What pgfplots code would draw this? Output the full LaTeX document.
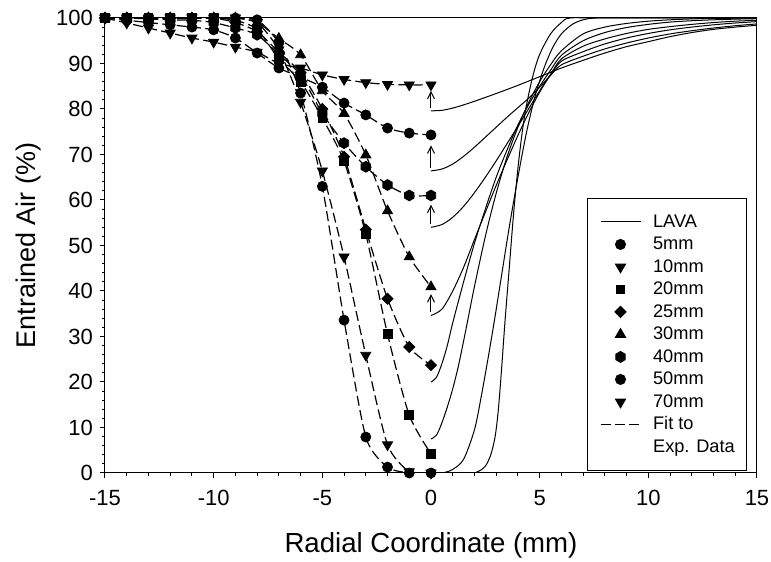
\documentclass[border=0pt]{standalone}
\usepackage{fontspec}
\setmainfont{Liberation Sans}
\usepackage{pgfplots}
\pgfplotsset{compat=1.18}
\usepackage{pgfplotstable}
\usetikzlibrary{arrows.meta,calc}

\pgfdeclareplotmark{hexagon*}{%
  \pgfpathmoveto{\pgfqpointpolar{90}{\pgfplotmarksize}}%
  \pgfpathlineto{\pgfqpointpolar{150}{\pgfplotmarksize}}%
  \pgfpathlineto{\pgfqpointpolar{210}{\pgfplotmarksize}}%
  \pgfpathlineto{\pgfqpointpolar{270}{\pgfplotmarksize}}%
  \pgfpathlineto{\pgfqpointpolar{330}{\pgfplotmarksize}}%
  \pgfpathlineto{\pgfqpointpolar{30}{\pgfplotmarksize}}%
  \pgfpathclose
  \pgfusepathqfillstroke}

\pgfplotstableread{
x    s5    s10   s20   s25   s30   s40   s50   s70
-15  100   100   100   100   100   100   100   100
-14  100   100   100   100   100   100   99.5  98.9
-13  100   100   100   100   100   99.8  99    97.8
-12  100   100   100   100   100   99.6  98.5  96.7
-11  100   100   100   100   100   99.5  98    95.6
-10  100   100   100   100   100   99    97.4  94.7
-9   100   100   99.5  99    100   97.8  95.6  93.6
-8   99.6  99    97.5  97    99    96.3  92.3  92.5
-7   94.5  93    91    92.5  95.5  92    89    90
-6   83.5  81.5  86    88    91.9  87.5  87    89
-5   63    66.4  78    80    84    79    84.8  87.5
-4   33.6  47.5  68.5  69.5  79    72.5  81.3  86.5
-3   7.9   25.9  52.5  53.5  69.9  67.3  78.7  85.8
-2   1.3   6.2   30.5  38.3  57.6  63.3  75.8  85.4
-1   0     0.3   12.7  27.7  47.5  61    74.7  85.3
0    0     0     4.2   23.7  40.9  61    74.3  85.3
}\expdata

\begin{document}
\begin{tikzpicture}
\begin{axis}[
  scale only axis, width=326pt, height=227.5pt,
  xmin=-15, xmax=15, ymin=0, ymax=100,
  xtick={-15,-10,...,15}, ytick={0,10,...,100},
  minor x tick num=4, minor y tick num=4,
  tick align=outside, xtick pos=bottom, ytick pos=left,
  major tick length=2.5pt, minor tick length=1.5pt,
  tick style={black, line width=0.5pt},
  axis line style={line width=0.5pt},
  /pgf/number format/assume math mode=true,
  ticklabel style={font=\fontsize{11}{13}\selectfont},
  xticklabel style={yshift=-2.5pt},
  xlabel={Radial Coordinate (mm)}, ylabel={Entrained Air (\%)},
  every axis x label/.style={at={(axis description cs:0.5,-0.158)}, anchor=center, font=\fontsize{13.8}{16}\selectfont},
  every axis y label/.style={at={(axis description cs:-0.118,0.5)}, rotate=90, anchor=center, font=\fontsize{13.5}{16}\selectfont},
  legend style={at={(0.985,0.604)}, anchor=north east, draw=black, line width=0.5pt,
    font=\fontsize{9.1}{10}\selectfont, inner xsep=6pt, inner ysep=6pt, row sep=0pt,
    nodes={inner sep=0pt, text height=8.4pt, text depth=2.85pt},
    /tikz/every odd column/.style={column sep=6pt}},
  legend cell align=left,
  legend image code/.code={\draw[mark repeat=2,mark phase=2,#1] plot coordinates {(0pt,0pt) (10pt,0pt) (20pt,0pt)};},
  fit/.style={black, line width=0.6pt, dash pattern=on 5pt off 2.2pt, smooth, tension=0.4, forget plot},
  lava/.style={black, line width=0.5pt, smooth, tension=0.5, forget plot},
  arr/.style={black, line width=0.5pt, -{Straight Barb[length=3.5pt,width=3.5pt]}, forget plot},
  mk/.style={only marks, black, forget plot},
]
% LAVA simulations
\addplot[lava] coordinates {(0,79.6) (0.5,79.7) (1,80.2) (1.5,80.9) (2,81.7) (3,83.4) (4,85.2) (5,87.1) (6,89.0) (7,90.7) (8,92.3) (9,93.7) (10,94.8) (11,95.9) (12,96.8) (13,97.5) (14,98.0) (15,98.4)};
\addplot[lava] coordinates {(0,66.4) (0.5,66.8) (1,67.9) (1.5,69.6) (2,71.6) (2.5,73.8) (3,76) (3.5,78.2) (4,80.3) (4.5,82.4) (5,84.8) (5.5,87.4) (6,89.7) (7,91.6) (8,93.2) (9,94.5) (10,95.6) (11,96.5) (12,97.2) (13,97.8) (14,98.3) (15,98.7)};
\addplot[lava] coordinates {(0,54) (0.5,54.6) (1,56.2) (1.5,58.6) (2,61.6) (2.5,65) (3,68.6) (3.5,72.4) (4,76.2) (4.5,80.1) (5,84) (5.5,87.5) (6,90.5) (7,92.6) (8,94.3) (9,95.6) (10,96.6) (11,97.4) (12,98.0) (13,98.5) (14,98.9) (15,99.2)};
\addplot[lava] coordinates {(0,34.6) (0.5,36) (1,40) (1.5,45.2) (2,51.3) (2.5,57.3) (3,63.2) (3.5,68.8) (4,74.2) (4.5,79.2) (5,83.7) (5.5,87.6) (6,91) (7,93.8) (8,95.4) (9,96.6) (10,97.5) (11,98.1) (12,98.6) (13,99) (14,99.3) (15,99.5)};
\addplot[lava] coordinates {(0,20) (0.25,21) (0.5,24) (0.75,28) (1,33) (1.5,42) (2,50.5) (2.5,58) (3,65) (3.5,71) (4,76.5) (4.5,81) (5,85) (5.5,88.5) (6,91.8) (7,95) (8,96.8) (9,97.9) (10,98.6) (11,99.1) (12,99.4) (13,99.6) (14,99.75) (15,99.85)};
\addplot[lava] coordinates {(0,7.5) (0.25,8.3) (0.5,11) (0.75,14.5) (1,18.5) (1.25,23.3) (1.5,29) (1.75,35) (2,41) (2.5,52) (3,61.5) (3.5,69.5) (4,76) (4.5,81.5) (5,86) (5.5,89.7) (6,92.8) (7,96.5) (8,98) (9,98.8) (10,99.3) (11,99.6) (12,99.8) (13,99.9) (15,100)};
\addplot[lava] coordinates {(0,0) (0.6,0.1) (1,0.8) (1.5,3) (2,9.5) (2.3,16.5) (2.6,24.5) (2.9,33) (3.2,42) (3.6,54) (4,65) (4.4,75) (4.8,83) (5.2,89) (5.6,93.5) (6,96.5) (6.5,98.6) (7,99.6) (7.6,100) (9,100) (15,100)};
\addplot[lava] coordinates {(0,0) (1.8,0) (2.2,0.4) (2.5,1.5) (2.75,4) (2.95,8) (3.1,14) (3.25,23) (3.4,33) (3.6,45) (3.8,57) (4.0,67) (4.2,75) (4.4,81) (4.7,87.5) (5,92) (5.5,96.5) (6,99) (6.4,100) (8,100) (15,100)};
% arrows from LAVA minimum to measured value
\addplot[arr] coordinates {(0,80.3) (0,84)};
\addplot[arr] coordinates {(0,67.1) (0,72)};
\addplot[arr] coordinates {(0,54.7) (0,59)};
\addplot[arr] coordinates {(0,35.4) (0,39.3)};
% fits to experimental data
\addplot[fit] table[x=x, y=s5] {\expdata};
\addplot[fit] table[x=x, y=s10] {\expdata};
\addplot[fit] table[x=x, y=s20] {\expdata};
\addplot[fit] table[x=x, y=s25] {\expdata};
\addplot[fit] table[x=x, y=s30] {\expdata};
\addplot[fit] table[x=x, y=s40] {\expdata};
\addplot[fit] table[x=x, y=s50] {\expdata};
\addplot[fit] table[x=x, y=s70] {\expdata};
% experimental data
\addplot[mk, mark=*, mark size=2.5pt] table[x=x, y=s5] {\expdata};
\addplot[mk, mark=triangle*, mark size=2.9pt, mark options={rotate=180}] table[x=x, y=s10] {\expdata};
\addplot[mk, mark=square*, mark size=2.2pt] table[x=x, y=s20] {\expdata};
\addplot[mk, mark=square*, mark size=1.95pt, mark options={rotate=45}] table[x=x, y=s25] {\expdata};
\addplot[mk, mark=triangle*, mark size=2.9pt] table[x=x, y=s30] {\expdata};
\addplot[mk, mark=hexagon*, mark size=2.7pt] table[x=x, y=s40] {\expdata};
\addplot[mk, mark=*, mark size=2.5pt] table[x=x, y=s50] {\expdata};
\addplot[mk, mark=triangle*, mark size=2.9pt, mark options={rotate=180}] table[x=x, y=s70] {\expdata};
% legend
\addlegendimage{black, line width=0.5pt}
\addlegendentry{LAVA}
\addlegendimage{only marks, black, mark=*, mark size=2.5pt}
\addlegendentry{5mm}
\addlegendimage{only marks, black, mark=triangle*, mark size=2.9pt, mark options={rotate=180}}
\addlegendentry{10mm}
\addlegendimage{only marks, black, mark=square*, mark size=2.2pt}
\addlegendentry{20mm}
\addlegendimage{only marks, black, mark=square*, mark size=1.95pt, mark options={rotate=45}}
\addlegendentry{25mm}
\addlegendimage{only marks, black, mark=triangle*, mark size=2.9pt}
\addlegendentry{30mm}
\addlegendimage{only marks, black, mark=hexagon*, mark size=2.7pt}
\addlegendentry{40mm}
\addlegendimage{only marks, black, mark=*, mark size=2.5pt}
\addlegendentry{50mm}
\addlegendimage{only marks, black, mark=triangle*, mark size=2.9pt, mark options={rotate=180}}
\addlegendentry{70mm}
\addlegendimage{black, line width=0.6pt, dash pattern=on 5pt off 2.2pt}
\addlegendentry{Fit to}
\addlegendimage{empty legend}
\addlegendentry{Exp. Data}
\end{axis}
\pgfresetboundingbox
\path ($(current axis.south west)+(-52.5pt,-44.5pt)$) rectangle ($(current axis.north east)+(7pt,9pt)$);
\end{tikzpicture}
\end{document}
